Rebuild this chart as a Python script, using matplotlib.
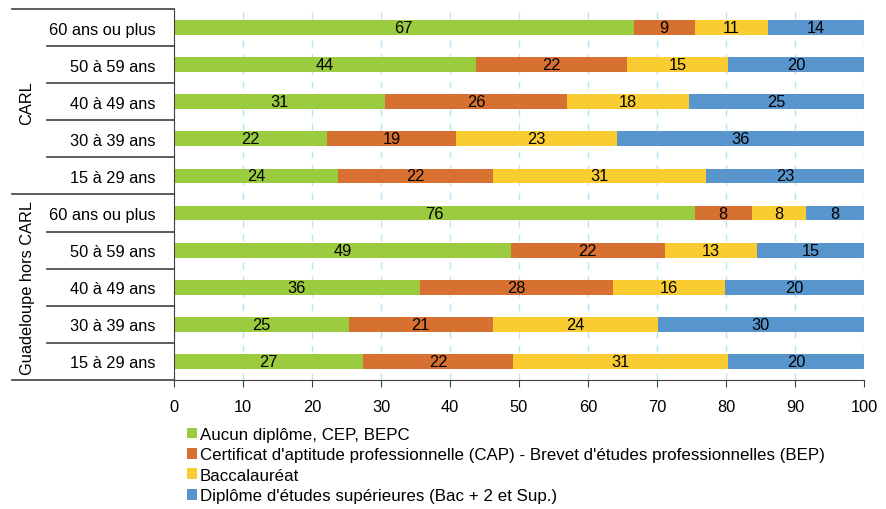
# Stacked horizontal bars: diploma level by age group, CARL vs rest of Guadeloupe

import matplotlib.pyplot as plt
import numpy as np

plt.rcParams['font.family'] = ['Liberation Sans', 'DejaVu Sans']

# Rows from top to bottom
AGES = ["60 ans ou plus", "50 à 59 ans", "40 à 49 ans", "30 à 39 ans", "15 à 29 ans",
        "60 ans ou plus", "50 à 59 ans", "40 à 49 ans", "30 à 39 ans", "15 à 29 ans"]
GROUPS = ["CARL", "Guadeloupe hors CARL"]

# Shares in percent
aucun = [66.6, 43.8, 30.6, 22.2, 23.8, 75.5, 48.8, 35.6, 25.3, 27.4]
cap_bep = [8.9, 21.9, 26.4, 18.7, 22.5, 8.2, 22.3, 28.0, 20.9, 21.8]
bac = [10.6, 14.6, 17.6, 23.3, 30.8, 7.9, 13.45, 16.2, 23.9, 31.1]
sup = [13.9, 19.7, 25.4, 35.8, 22.9, 8.4, 15.45, 20.2, 29.9, 19.7]

SERIES = [
    ("Aucun diplôme, CEP, BEPC", aucun, "#9bcb3f"),
    ("Certificat d'aptitude professionnelle (CAP) - Brevet d'études professionnelles (BEP)", cap_bep, "#d77131"),
    ("Baccalauréat", bac, "#f9cd31"),
    ("Diplôme d'études supérieures (Bac + 2 et Sup.)", sup, "#5895cd"),
]

FS = 11.8

fig = plt.figure(figsize=(8.86, 5.10), dpi=100)
ax = fig.add_axes([174 / 886, 1 - 381 / 510, 690 / 886, 371 / 510])

y = np.arange(len(AGES))
left = np.zeros(len(AGES))
handles = []
for name, vals, color in SERIES:
    vals = np.array(vals)
    bars = ax.barh(y, vals, left=left, height=0.4, color=color, label=name, zorder=2)
    handles.append(bars)
    for yi, l, v in zip(y, left, vals):
        ax.text(l + v / 2, yi, f"{v:.0f}", ha="center", va="center", fontsize=FS, color="black", zorder=3)
    left = left + vals

ax.set_xlim(0, 100)
ax.set_ylim(len(AGES) - 0.5, -0.5)
ax.set_xticks(np.arange(0, 101, 10))
ax.tick_params(axis="x", labelsize=FS, length=5, color="#404040", pad=9)
ax.set_yticks(y)
ax.set_yticklabels(AGES, fontsize=FS)
ax.tick_params(axis="y", length=0, pad=13)

ax.xaxis.grid(True, color="#b4e8f6", linestyle=(0, (5, 5)), linewidth=1, zorder=0)
for s in ["top", "right"]:
    ax.spines[s].set_visible(False)
ax.spines["left"].set_color("#404040")
ax.spines["bottom"].set_color("#404040")
ax.spines["bottom"].set_bounds(0, 100)

# Category separator lines on the left
tr = ax.get_yaxis_transform()
x_group = (12 - 174) / 690
x_row = (47 - 174) / 690
for yb in [-0.5, 4.5, 9.5]:
    ax.plot([x_group, 0], [yb, yb], color="#404040", lw=1.2, transform=tr, clip_on=False)
for yb in [0.5, 1.5, 2.5, 3.5, 5.5, 6.5, 7.5, 8.5]:
    ax.plot([x_row, 0], [yb, yb], color="#404040", lw=1.2, transform=tr, clip_on=False)

x_lab = (27 - 174) / 690
ax.text(x_lab, 2, GROUPS[0], rotation=90, ha="center", va="center", fontsize=FS, transform=tr)
ax.text(x_lab, 7, GROUPS[1], rotation=90, ha="center", va="center", fontsize=FS, transform=tr)

fig.legend(handles=handles, loc="upper left", bbox_to_anchor=(187 / 886, 1 - 428 / 510),
           frameon=False, fontsize=12.2, handlelength=0.6, handleheight=0.6,
           handletextpad=0.15, labelspacing=0.32, borderaxespad=0, borderpad=0)

fig.savefig("out.png", dpi=100)
